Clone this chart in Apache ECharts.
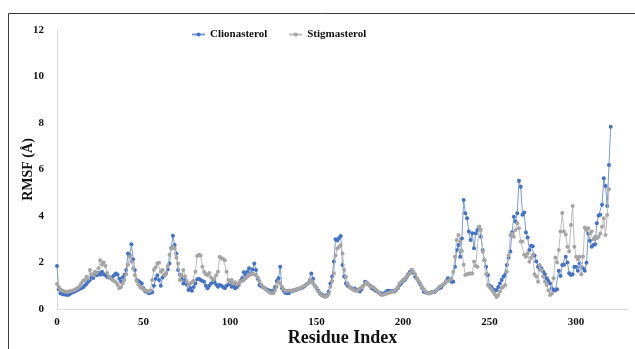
<!DOCTYPE html>
<html>
<head>
<meta charset="utf-8">
<script src="https://cdn.jsdelivr.net/npm/echarts@6/dist/echarts.min.js"></script>
<style>
html,body{margin:0;padding:0;background:#fff;}
#chart{width:635px;height:349px;}
</style>
</head>
<body>
<div id="chart"></div>
<script>
const seriesNames = ["Clionasterol", "Stigmasterol"];
const xTicks = [0, 50, 100, 150, 200, 250, 300];
const yTicks = [0, 2, 4, 6, 8, 10, 12];

const clionasterol = [
  1.85, 0.85, 0.68, 0.65, 0.62, 0.62, 0.60, 0.62, 0.68, 0.72,
  0.74, 0.78, 0.82, 0.86, 0.90, 0.93, 1.00, 1.08, 1.17, 1.25,
  1.39, 1.33, 1.53, 1.45, 1.55, 1.47, 1.60, 1.50, 1.45, 1.39,
  1.35, 1.32, 1.38, 1.45, 1.53, 1.48, 1.30, 1.17, 1.35, 1.47,
  1.68, 2.39, 2.30, 2.79, 2.14, 1.68, 1.25, 1.20, 1.15, 1.10,
  0.89, 0.75, 0.75, 0.68, 0.70, 0.72, 1.00, 1.30, 1.45, 1.25,
  1.00, 1.35, 1.45, 1.53, 1.70, 1.96, 2.62, 3.15, 2.75, 2.39,
  1.68, 1.47, 1.30, 1.10, 1.25, 1.05, 0.82, 0.90, 0.79, 0.95,
  1.10, 1.28, 1.30, 1.25, 1.20, 1.17, 1.00, 0.89, 1.00, 1.10,
  1.15, 1.17, 1.05, 0.96, 1.03, 1.00, 0.95, 0.89, 1.00, 1.05,
  1.10, 0.96, 1.00, 0.89, 0.95, 1.03, 1.20, 1.32, 1.58, 1.45,
  1.60, 1.75, 1.53, 1.70, 1.96, 1.68, 1.30, 1.03, 0.98, 0.95,
  0.89, 0.85, 0.82, 0.78, 0.75, 0.80, 0.95, 1.20, 1.32, 1.82,
  0.89, 0.78, 0.70, 0.68, 0.68, 0.75, 0.78, 0.80, 0.82, 0.85,
  0.87, 0.89, 0.92, 0.98, 1.05, 1.10, 1.17, 1.53, 1.30, 1.00,
  0.90, 0.79, 0.68, 0.62, 0.58, 0.55, 0.60, 0.75, 1.10, 1.40,
  2.04, 3.00, 2.95, 3.05, 3.14, 1.89, 1.40, 1.10, 1.00, 0.96,
  0.90, 0.85, 0.88, 0.82, 0.80, 0.75, 0.85, 1.00, 1.17, 1.10,
  1.05, 1.00, 0.89, 0.85, 0.80, 0.75, 0.70, 0.68, 0.65, 0.68,
  0.72, 0.79, 0.78, 0.76, 0.78, 0.75, 0.82, 0.90, 1.03, 1.10,
  1.20, 1.25, 1.35, 1.50, 1.60, 1.68, 1.55, 1.39, 1.30, 1.17,
  1.05, 0.90, 0.74, 0.72, 0.70, 0.68, 0.70, 0.74, 0.72, 0.78,
  0.85, 0.90, 0.92, 1.03, 1.10, 1.20, 1.32, 1.25, 1.17, 1.17,
  1.82, 2.54, 2.75, 2.25, 3.03, 4.69, 4.12, 3.90, 3.33, 2.97,
  3.26, 2.61, 3.26, 3.40, 3.54, 3.11, 2.54, 2.10, 1.82, 1.46,
  1.00, 0.96, 0.85, 0.79, 0.82, 0.95, 1.10, 1.25, 1.39, 1.46,
  1.89, 2.20, 2.47, 3.30, 3.97, 3.76, 4.12, 5.52, 5.26, 4.05,
  4.15, 3.29, 3.08, 2.54, 2.72, 2.70, 2.30, 2.04, 1.82, 1.70,
  1.75, 1.60, 1.50, 1.32, 1.20, 1.10, 0.89, 0.82, 0.80, 0.85,
  1.65, 1.42, 1.89, 1.90, 2.25, 2.00, 1.54, 1.46, 1.50, 1.82,
  1.82, 1.65, 1.97, 1.80, 1.75, 1.64, 1.99, 3.25, 2.94, 2.68,
  2.75, 2.78, 3.69, 4.02, 4.05, 4.48, 5.62, 5.29, 4.43, 6.19,
  7.84
];

const stigmasterol = [
  1.07, 0.95, 0.85, 0.80, 0.76, 0.74, 0.72, 0.76, 0.76, 0.80,
  0.82, 0.86, 0.90, 0.98, 1.10, 1.20, 1.25, 1.39, 1.30, 1.68,
  1.50, 1.45, 1.60, 1.55, 1.75, 2.10, 1.90, 2.00, 1.85, 1.55,
  1.40, 1.32, 1.25, 1.20, 1.15, 1.03, 0.89, 0.95, 1.10, 1.25,
  1.50, 1.90, 2.25, 2.04, 1.75, 1.45, 1.20, 1.05, 0.95, 0.89,
  0.85, 0.80, 0.78, 0.75, 0.80, 1.25, 1.68, 1.80, 1.96, 1.99,
  1.60, 1.68, 1.45, 1.55, 1.85, 2.33, 2.60, 2.68, 2.60, 2.20,
  1.96, 1.25, 1.45, 1.68, 1.40, 1.20, 1.05, 1.10, 1.15, 1.20,
  1.60, 2.28, 2.33, 2.30, 1.82, 1.60, 1.50, 1.46, 1.55, 1.35,
  1.25, 1.30, 1.45, 1.60, 2.25, 2.18, 2.15, 2.10, 1.60, 1.25,
  1.15, 1.25, 1.10, 1.15, 1.05, 1.10, 1.17, 1.20, 1.25, 1.32,
  1.40, 1.45, 1.50, 1.53, 1.50, 1.45, 1.35, 1.20, 1.05, 0.95,
  0.89, 0.82, 0.75, 0.70, 0.68, 0.68, 0.80, 0.96, 1.17, 1.10,
  0.96, 0.85, 0.79, 0.79, 0.80, 0.79, 0.80, 0.82, 0.84, 0.86,
  0.88, 0.90, 0.96, 1.00, 1.05, 1.10, 1.25, 1.20, 1.10, 1.00,
  0.90, 0.75, 0.65, 0.58, 0.55, 0.52, 0.55, 0.65, 0.96, 1.20,
  1.53, 2.30, 2.60, 2.68, 2.75, 2.39, 1.68, 1.39, 1.10, 0.96,
  0.90, 0.85, 0.80, 0.79, 0.82, 0.88, 0.92, 1.00, 1.10, 1.15,
  1.05, 0.98, 0.96, 0.92, 0.85, 0.79, 0.70, 0.62, 0.60, 0.62,
  0.65, 0.68, 0.70, 0.72, 0.75, 0.78, 0.85, 0.95, 1.10, 1.17,
  1.25, 1.30, 1.40, 1.45, 1.53, 1.68, 1.60, 1.50, 1.32, 1.20,
  1.10, 0.95, 0.85, 0.75, 0.70, 0.67, 0.68, 0.72, 0.74, 0.80,
  0.85, 0.96, 1.00, 1.05, 1.10, 1.17, 1.20, 1.25, 1.30, 1.60,
  2.25, 2.97, 3.18, 2.90, 2.50, 1.90, 1.46, 1.50, 1.53, 1.53,
  1.53, 2.04, 1.85, 1.82, 3.54, 3.40, 2.47, 2.10, 1.50, 1.03,
  0.95, 0.85, 0.74, 0.62, 0.52, 0.60, 0.75, 0.90, 0.96, 1.03,
  1.60, 2.30, 3.18, 3.25, 3.11, 3.40, 3.69, 3.47, 2.90, 2.90,
  2.33, 2.25, 2.40, 2.03, 2.20, 2.33, 1.50, 1.40, 1.17, 1.89,
  1.68, 1.40, 1.17, 1.03, 0.80, 0.60, 0.67, 1.32, 2.22, 2.00,
  2.54, 3.33, 4.13, 3.33, 3.20, 2.68, 2.47, 3.61, 4.43, 2.68,
  2.25, 2.14, 2.25, 1.50, 2.25, 3.51, 3.40, 3.47, 3.25, 3.33,
  3.00, 3.11, 3.04, 3.11, 3.25, 3.54, 3.90, 3.18, 4.04, 5.15
];

const toPairs = arr => arr.map((v, i) => [i, v]);

const serif = '"Liberation Serif", "Times New Roman", serif';
const chart = echarts.init(document.getElementById('chart'), null, {renderer: 'canvas'});

chart.setOption({
  animation: false,
  backgroundColor: '#ffffff',
  textStyle: {fontFamily: serif},
  graphic: [{
    type: 'rect',
    shape: {x: 8.5, y: 13.5, width: 700, height: 400},
    style: {fill: 'none', stroke: '#3a3a3a', lineWidth: 1},
    silent: true, z: -1
  }],
  legend: {
    top: 24,
    left: 186,
    itemGap: 21,
    itemWidth: 13,
    itemHeight: 5,
    textStyle: {fontFamily: serif, fontWeight: 'bold', fontSize: 11, color: '#111'},
    data: seriesNames
  },
  grid: {left: 57, top: 30, right: 7, bottom: 40, containLabel: false, outerBoundsMode: 'none'},
  xAxis: {
    type: 'value',
    min: 0, max: 330, interval: 50,
    name: 'Residue Index',
    nameLocation: 'middle',
    nameGap: 20,
    nameMoveOverlap: false,
    nameTextStyle: {fontFamily: serif, fontWeight: 'bold', fontSize: 18, color: '#111'},
    axisLine: {show: true, lineStyle: {color: '#d9d9d9', width: 1}},
    axisTick: {show: false},
    splitLine: {show: false},
    axisLabel: {
      fontFamily: serif, fontWeight: 'bold', fontSize: 11, color: '#111', margin: 8,
      showMaxLabel: false,
      formatter: v => xTicks.includes(v) ? String(v) : ''
    }
  },
  yAxis: {
    type: 'value',
    min: 0, max: 12, interval: 2,
    name: 'RMSF (Å)',
    nameLocation: 'middle',
    nameGap: 22,
    nameMoveOverlap: false,
    nameTextStyle: {fontFamily: serif, fontWeight: 'bold', fontSize: 14, color: '#111'},
    axisLine: {show: true, lineStyle: {color: '#d9d9d9', width: 1}},
    axisTick: {show: false},
    splitLine: {show: false},
    axisLabel: {
      fontFamily: serif, fontWeight: 'bold', fontSize: 11, color: '#111', margin: 13,
      formatter: v => yTicks.includes(v) ? String(v) : ''
    }
  },
  series: [
    {
      name: seriesNames[0],
      type: 'line',
      data: toPairs(clionasterol),
      symbol: 'circle',
      symbolSize: 4,
      showAllSymbol: true,
      itemStyle: {color: '#4472c4'},
      lineStyle: {color: '#7a9ad6', width: 1},
      z: 2
    },
    {
      name: seriesNames[1],
      type: 'line',
      data: toPairs(stigmasterol),
      symbol: 'circle',
      symbolSize: 4,
      showAllSymbol: true,
      itemStyle: {color: '#a5a5a5'},
      lineStyle: {color: '#bdbdbd', width: 1},
      z: 3
    }
  ]
});
</script>
</body>
</html>
